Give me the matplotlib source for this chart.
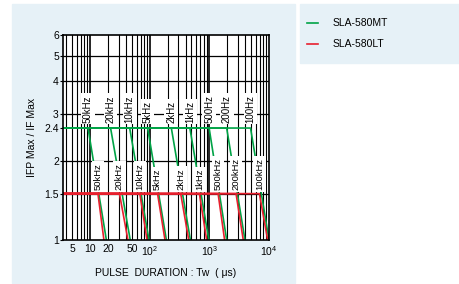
import numpy as np
import matplotlib
matplotlib.use("Agg")
import matplotlib.pyplot as plt
from matplotlib.patches import Rectangle

plt.rcParams['font.family'] = ['Liberation Sans', 'DejaVu Sans']
plt.rcParams['mathtext.fontset'] = 'custom'
plt.rcParams['mathtext.rm'] = 'Liberation Sans'

# frequency labels
upper_labels = ['50kHz', '20kHz', '10kHz', '5kHz', '2kHz', '1kHz', '500Hz', '200Hz', '100Hz']
lower_labels = ['50kHz', '20kHz', '10kHz', '5kHz', '2kHz', '1kHz', '500kHz', '200kHz', '100kHz']

# SLA-580MT (green): flat at 2.4 until start, then down to 1.0 at end
mt_level = 2.4
mt_start = [9.2, 22, 46, 92, 230, 470, 990, 1950, 4900]
mt_end = [18.7, 47, 97, 190, 480, 980, 1950, 3950, 10000]

# SLA-580LT (red): flat at 1.5 until start, then down to 1.0 at end
lt_level = 1.5
lt_start = [13.5, 31, 68, 135, 330, 680, 1400, 2800, 6900]
lt_end = [17, 43, 90, 180, 450, 900, 1800, 3700, 9500]

y_ticks = [1, 1.5, 2, 2.4, 3, 4, 5, 6]
x_ticks = [5, 10, 20, 50, 100, 1000, 10000]
x_ticklabels = ['5', '10', '20', '50', r'$10^2$', r'$10^3$', r'$10^4$']

GREEN = '#00a346'
RED = '#e8202e'
PANEL = '#e6f1f7'

# the printed chart puts 2.4 a bit higher than a true log axis would
anc_log = np.log10([1e-3, 1, 2, 2.4, 3, 6, 1e3])
anc_warp = np.array([-3, 0, np.log10(2), 0.425, np.log10(3), np.log10(6), 3])


def fwd(v):
    v = np.clip(np.asarray(v, dtype=float), 1e-3, 1e3)
    return np.interp(np.log10(v), anc_log, anc_warp)


def inv(w):
    return 10 ** np.interp(np.asarray(w, dtype=float), anc_warp, anc_log)


fig = plt.figure(figsize=(4.59, 2.84), dpi=100)
fig.patches.append(Rectangle((12 / 459, 1 / 284), 283 / 459, 279 / 284,
                             transform=fig.transFigure, color=PANEL, zorder=-5))
fig.patches.append(Rectangle((300 / 459, 1 - 63 / 284), 159 / 459, 59 / 284,
                             transform=fig.transFigure, color=PANEL, zorder=-5))

ax = fig.add_axes([63 / 459, 1 - 240 / 284, 206 / 459, 205 / 284])
ax.set_zorder(2)
ax.set_facecolor('white')
ax.set_xscale('log')
ax.set_yscale('function', functions=(fwd, inv))
xmin, xmax = 3.5, 10000
ax.set_xlim(xmin, xmax)
ax.set_ylim(1, 6)

# grid
for d in [1, 10, 100, 1000]:
    for k in range(1, 10):
        g = k * d
        if xmin < g < xmax:
            ax.axvline(g, color='black', lw=1.2 if k == 1 else 0.8, zorder=1)
for g in [1.5, 2, 3, 4, 5]:
    ax.axhline(g, color='black', lw=0.9, zorder=1)

# curves
for s, e in zip(mt_start, mt_end):
    ax.plot([xmin, s, e], [mt_level, mt_level, 1.0], color=GREEN, lw=1.2, zorder=3,
            solid_capstyle='butt')
for s, e in zip(lt_start, lt_end):
    ax.plot([xmin, s, e], [lt_level, lt_level, 1.0], color=RED, lw=1.2, zorder=5,
            solid_capstyle='butt')

box = dict(facecolor='white', edgecolor='none', pad=1.3)
for s, lab in zip(mt_start, upper_labels):
    ax.text(s, 2.62, lab, rotation=90, ha='center', va='bottom', fontsize=7,
            bbox=box, zorder=4)
for s, lab in zip(lt_start, lower_labels):
    ax.text(s, 1.55, lab, rotation=90, ha='center', va='bottom', fontsize=6.8,
            bbox=box, zorder=4)

ax.set_yticks(y_ticks)
ax.set_yticklabels([str(t) for t in y_ticks])
ax.yaxis.set_minor_locator(matplotlib.ticker.NullLocator())
ax.set_xticks(x_ticks)
ax.set_xticklabels(x_ticklabels)
ax.xaxis.set_minor_locator(matplotlib.ticker.NullLocator())
ax.tick_params(axis='y', length=2, width=0.8, pad=1, labelsize=7.5)
ax.tick_params(axis='x', length=0, pad=3, labelsize=7.5)
for sp in ax.spines.values():
    sp.set_linewidth(1.2)
    sp.set_zorder(6)

ax.set_xlabel('PULSE  DURATION : Tw  ( \u03bcs)', fontsize=7.5, labelpad=7)
ax.set_ylabel('IFP Max / IF Max', fontsize=7.5, labelpad=5)

# legend panel
fig.lines.append(plt.Line2D([307 / 459, 318 / 459], [1 - 22.7 / 284] * 2,
                            transform=fig.transFigure, color=GREEN, lw=1.2))
fig.lines.append(plt.Line2D([307 / 459, 318 / 459], [1 - 43.7 / 284] * 2,
                            transform=fig.transFigure, color=RED, lw=1.2))
fig.text(333 / 459, 1 - 22.7 / 284, 'SLA-580MT', fontsize=7.5, va='center')
fig.text(333 / 459, 1 - 43.7 / 284, 'SLA-580LT', fontsize=7.5, va='center')

fig.savefig('out.png', dpi=100)
